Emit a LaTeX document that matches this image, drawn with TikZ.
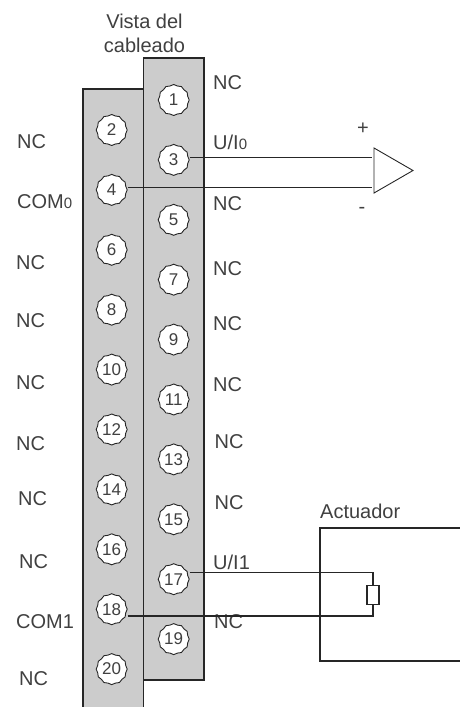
\documentclass[tikz,border=0pt]{standalone}
\usepackage{fontspec}
\setmainfont{Liberation Sans}
\usetikzlibrary{positioning, shapes.geometric}
\definecolor{stripgray}{gray}{0.8}
\newcommand{\lowzero}{{\fontsize{15}{15}\selectfont 0}}
\tikzset{
  wire/.style={line width=1.2pt, black!85},
  strip/.style={draw=black!85, line width=1.2pt, fill=stripgray},
  pin/.style={star, star points=12, star point ratio=1.07, draw=black!85, line width=0.9pt, fill=white, minimum size=31pt, inner sep=0pt, font=\fontsize{17}{17}\selectfont, text=black!75},
  lbl/.style={font=\fontsize{20}{24}\selectfont, text=black!75, inner sep=0pt},
  sidelbl/.style={lbl, anchor=west, text height=14.3pt, text depth=0pt},
}
\begin{document}
\begin{tikzpicture}[x=1pt, y=-1pt]
  \useasboundingbox (0,0) rectangle (460,707);
  % connector strips
  \draw[strip] (83,707) -- (83,89) -- (143.5,89) -- (143.5,707);
  \draw[strip] (143.5,58) rectangle (204,680);
  % pins, right row odd, left row even
  \foreach \n [evaluate=\n as \ypos using {100+(\n-1)*29.95}] in {1,3,...,19}
    \node[pin] (p\n) at (173.7,\ypos) {\n};
  \foreach \n [evaluate=\n as \ypos using {130+(\n-2)*29.95}] in {2,4,...,20}
    \node[pin] (p\n) at (111.7,\ypos) {\n};
  % title
  \node[lbl, align=center] (title) at (144.5,33) {Vista del\\cableado};
  % left labels
  \foreach \name/\txt/\xpos/\ypos in {a/NC/17/141, b/COM\lowzero/17/201, c/NC/16/262, d/NC/16/320, e/NC/16/382, f/NC/16/443, g/NC/18/498, h/NC/19/561, j/COM1/16/621, k/NC/19/678}
    \node[sidelbl] (left\name) at (\xpos,\ypos) {\txt};
  % right labels
  \foreach \name/\txt/\xpos/\ypos in {a/NC/213/82, b/U\slash I\lowzero/213/142, c/NC/213/203, d/NC/213/268, e/NC/213/323, f/NC/213/384, g/NC/214.5/441, h/NC/214.5/502, j/U\slash I1/213/562, k/NC/214/621}
    \node[sidelbl] (right\name) at (\xpos,\ypos) {\txt};
  % amplifier
  \node[draw=black!85, line width=0.9pt, isosceles triangle, isosceles triangle apex angle=60, minimum height=39pt, inner sep=0pt] (amp) at (387,170.5) {};
  \node[lbl] (plus) at (363,129) {+};
  \node[lbl] (minus) at (362,210.5) {-};
  \coordinate (inplus) at (372,157.3);
  \coordinate (inminus) at (372,187.3);
  \draw[wire] (p3.east |- inplus) -- (inplus);
  \draw[wire] (p4.east |- inminus) -- (inminus);
  % actuator
  \node[lbl, anchor=west, text height=14.3pt, text depth=0pt] (actlabel) at (320,511.5) {Actuador};
  \draw[wire] (460,528) -- (320,528) -- (320,661) -- (460,661);
  \node[draw=black!85, line width=1.2pt, fill=white, minimum width=12pt, minimum height=19pt, inner sep=0pt] (res) at (373,595) {};
  \coordinate (restop) at (373,572.3);
  \coordinate (resbot) at (373,616);
  \draw[wire] (p17.east |- restop) -- (restop) -- (res);
  \draw[wire] (p18.east |- resbot) -- (resbot) -- (res);
\end{tikzpicture}
\end{document}
